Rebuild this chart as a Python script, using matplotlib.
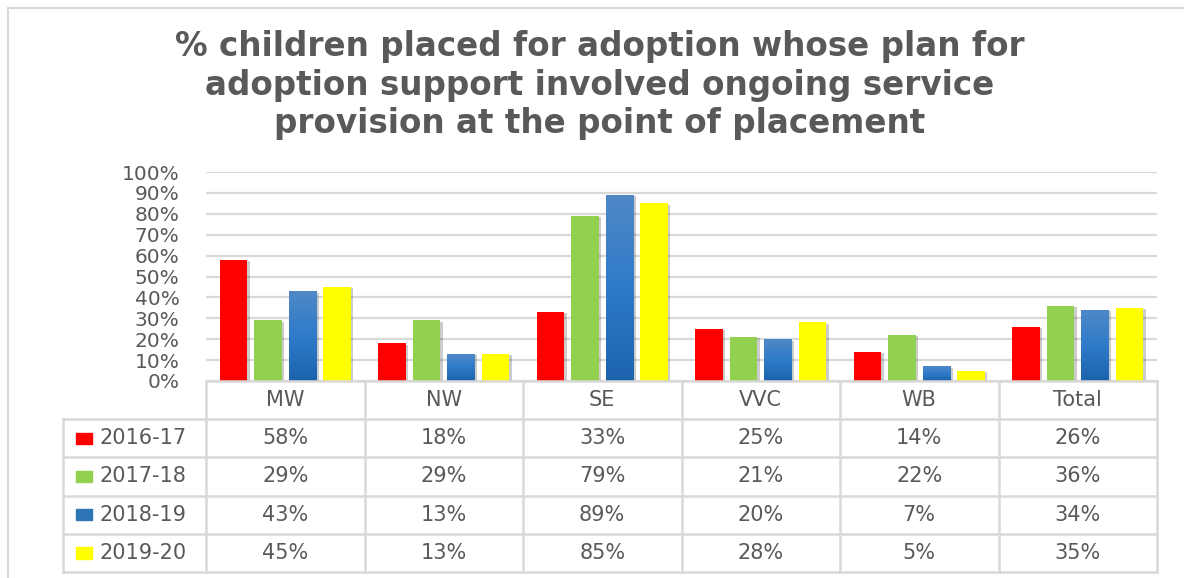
import numpy as np
import matplotlib.pyplot as plt
import matplotlib.patheffects as pe
from matplotlib.colors import LinearSegmentedColormap

regions = ['MW', 'NW', 'SE', 'VVC', 'WB', 'Total']
years = ['2016-17', '2017-18', '2018-19', '2019-20']
v_1617 = [58, 18, 33, 25, 14, 26]
v_1718 = [29, 29, 79, 21, 22, 36]
v_1819 = [43, 13, 89, 20, 7, 34]
v_1920 = [45, 13, 85, 28, 5, 35]
yticks = [0, 10, 20, 30, 40, 50, 60, 70, 80, 90, 100]

series = [v_1617, v_1718, v_1819, v_1920]
colors = ['#FF0000', '#92D050', '#2E75B6', '#FFFF00']
txt = '#595959'
grid_c = '#D9D9D9'
tfont = 'DejaVu Sans'

W, H = 1184, 578
fig = plt.figure(figsize=(W / 100, H / 100), dpi=100)

# chart frame
fig.add_artist(plt.Line2D([8 / W, 8 / W], [0, 1 - 8 / H], color='#D9D9D9', lw=1.5))
fig.add_artist(plt.Line2D([8 / W, 1], [1 - 8 / H, 1 - 8 / H], color='#D9D9D9', lw=1.5))

fig.text(600 / W, 1 - 85 / H,
         '% children placed for adoption whose plan for\n'
         'adoption support involved ongoing service\n'
         'provision at the point of placement',
         ha='center', va='center', fontsize=23.5, fontweight='bold',
         color=txt, family='DejaVu Sans', linespacing=1.23)

# plot area
x0, x1, ytop, ybot = 206, 1157, 172, 381
ax = fig.add_axes([x0 / W, 1 - ybot / H, (x1 - x0) / W, (ybot - ytop) / H])
x = np.arange(len(regions))
bw = 0.172
step = 0.218
blue_cmap = LinearSegmentedColormap.from_list('b', ['#1D63AC', '#2E7BC9', '#5088C6'])
for i, vals in enumerate(series):
    pos = x + (i - 1.5) * step
    bars = ax.bar(pos, np.array(vals) / 100, width=bw, color=colors[i], zorder=3)
    for b in bars:
        b.set_path_effects([pe.SimplePatchShadow(offset=(2, -1), alpha=0.2, shadow_rgbFace='#000000'),
                            pe.Normal()])
        if i == 2:
            bx, by = b.get_x(), b.get_height()
            im = ax.imshow(np.linspace(0, 1, 64).reshape(-1, 1), cmap=blue_cmap,
                           extent=[bx, bx + bw, 0, by], origin='lower',
                           aspect='auto', zorder=4)
            im.set_clip_path(b)

ax.set_xlim(-0.5, len(regions) - 0.5)
ax.set_ylim(0, 1)
ax.set_yticks(np.array(yticks) / 100)
ax.set_yticklabels([f'{t}%' for t in yticks], fontsize=14.5, color=txt, family=tfont)
ax.tick_params(axis='y', length=0, pad=19)
ax.set_xticks([])
for s in ax.spines.values():
    s.set_visible(False)
ax.grid(axis='y', color=grid_c, lw=1.6, zorder=0)
ax.set_axisbelow(True)

# data table
leg_left = 63
tbot = 572
span_left = -0.5 - (x0 - leg_left) / ((x1 - x0) / len(regions))
tax = fig.add_axes([leg_left / W, 1 - tbot / H, (x1 - leg_left) / W, (tbot - ybot) / H])
tax.set_xlim(span_left, len(regions) - 0.5)
tax.set_ylim(len(years) + 1, 0)
tax.axis('off')
lc = dict(color=grid_c, lw=1.8, clip_on=False, solid_capstyle='projecting')
edges = np.arange(len(regions) + 1) - 0.5
for e in edges:
    tax.plot([e, e], [0, len(years) + 1], **lc)
tax.plot([span_left, span_left], [1, len(years) + 1], **lc)
tax.plot([-0.5, len(regions) - 0.5], [0, 0], **lc)
for r in range(1, len(years) + 2):
    tax.plot([span_left, len(regions) - 0.5], [r, r], **lc)

for j, reg in enumerate(regions):
    tax.text(j, 0.5, reg, ha='center', va='center', fontsize=15, color=txt, family=tfont)
for i, (yr, vals) in enumerate(zip(years, series)):
    tax.add_patch(plt.Rectangle((span_left + 0.08, i + 1.5 - 0.15), 0.1, 0.3,
                                color=colors[i], clip_on=False))
    tax.text(span_left + 0.23, i + 1.5, yr, ha='left', va='center', fontsize=15,
             color=txt, family=tfont)
    for j, v in enumerate(vals):
        tax.text(j, i + 1.5, f'{v}%', ha='center', va='center', fontsize=15,
                 color=txt, family=tfont)

fig.savefig('out.png', dpi=100)
